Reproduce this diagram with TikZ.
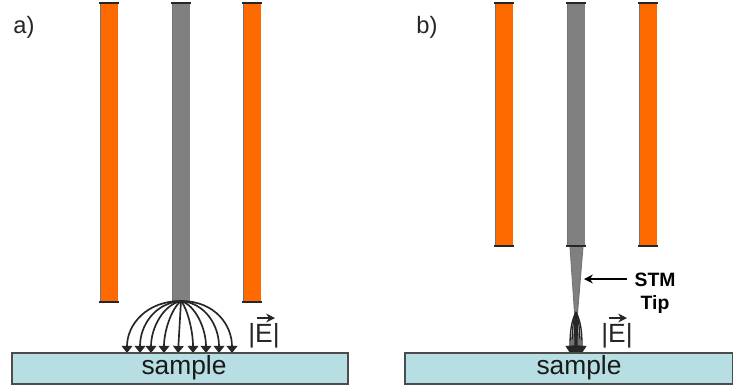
\documentclass[tikz,border=0pt]{standalone}
\usepackage{fontspec}
\setmainfont{Liberation Sans}
\usetikzlibrary{arrows.meta}
\definecolor{orangebar}{HTML}{FF6A00}
\definecolor{graybar}{HTML}{808080}
\definecolor{samplefill}{HTML}{B7DEE2}
\tikzset{
  px/.style={x=0.02cm,y=-0.02cm},
  edgeline/.style={line width=1.1pt,black!85},
  sideline/.style={line width=0.5pt,black!55},
  samplebox/.style={fill=samplefill,draw=black!70,line width=0.9pt},
  lab/.style={font=\fontsize{13.5pt}{15pt}\selectfont,text=black!85,inner sep=0pt},
  samplelab/.style={font=\fontsize{15pt}{17pt}\selectfont,text=black!90,inner sep=0pt,anchor=base},
  boldlab/.style={font=\fontsize{11pt}{13pt}\selectfont\bfseries,inner sep=0pt},
  elab/.style={font=\fontsize{15pt}{17pt}\selectfont,text=black!85,inner sep=0pt,anchor=base},
  earrow/.style={line width=0.9pt,black!85,-{Stealth[length=5pt,width=5pt]}},
  field/.style={line width=0.95pt,black!85,-{Triangle[length=4pt,width=6pt]}},
  fieldtight/.style={line width=0.75pt,black!85,-{Triangle[length=4pt,width=5pt]}},
  pointer/.style={line width=0.9pt,black,-{Stealth[length=5pt,width=5pt]}},
}
\newcommand{\plate}[3]{%
  \fill[#1] (#2,3) rectangle (#2+18,#3);
  \draw[sideline] (#2,3) -- (#2,#3);
  \draw[edgeline] (#2-1,3) -- (#2+19,3);
  \draw[edgeline] (#2-1,#3) -- (#2+19,#3);
}
\begin{document}
\begin{tikzpicture}[px]
\useasboundingbox (0,0) rectangle (733,387);
\fill[white] (0,0) rectangle (733,387);

% panel a
\node[lab] (la) at (24,27) {a)};
\plate{orangebar}{100}{302}
\plate{graybar}{172}{302}
\plate{orangebar}{243}{302}
\coordinate (apex) at (181,301);
\foreach \x in {127,140,151,164,178,193,206,219,232}{
  \coordinate (e\x) at (\x,353);
}
\draw[field] (apex) .. controls (146,301) and (127,325) .. (e127);
\draw[field] (apex) .. controls (155,303) and (140,325) .. (e140);
\draw[field] (apex) .. controls (163,305) and (151,328) .. (e151);
\draw[field] (apex) .. controls (172,308) and (164,330) .. (e164);
\draw[field] (apex) -- (e178);
\draw[field] (apex) .. controls (187,308) and (193,330) .. (e193);
\draw[field] (apex) .. controls (195,305) and (206,328) .. (e206);
\draw[field] (apex) .. controls (205,303) and (219,325) .. (e219);
\draw[field] (apex) .. controls (215,301) and (232,325) .. (e232);
\node[elab] (ea) at (264,342) {|E|};
\coordinate (eas) at (257,318);
\coordinate (eae) at (275,318);
\draw[earrow] (eas) -- (eae);
\draw[samplebox] (12,353) rectangle (348,384);
\node[samplelab] (sa) at (184,374) {sample};

% panel b
\node[lab] (lb) at (427,27) {b)};
\plate{orangebar}{495}{246}
\plate{graybar}{567}{246}
\plate{orangebar}{639}{246}
\fill[graybar] (570,247) -- (583,247) -- (577,320) -- (575,320) -- cycle;
\draw[sideline] (570,247) -- (575,320);
\draw[sideline] (583,247) -- (577,320);
\coordinate (tip) at (576,312);
\foreach \x in {570,572,574,575,576,577,578,580,582}{
  \coordinate (t\x) at (\x,353);
  \draw[fieldtight] (tip) .. controls ({576+(\x-576)*0.9},322) and (\x,335) .. (t\x);
}
\node[boldlab] (stm) at (655,280) {STM};
\node[boldlab] (tipl) at (655,304) {Tip};
\coordinate (pend) at (584,279);
\coordinate (pst) at (627,279);
\draw[pointer] (pst) -- (pend);
\node[elab] (eb) at (617,342) {|E|};
\coordinate (ebs) at (609,318);
\coordinate (ebe) at (627,318);
\draw[earrow] (ebs) -- (ebe);
\draw[samplebox] (405,353) rectangle (733,384);
\node[samplelab] (sb) at (579,374) {sample};
\end{tikzpicture}
\end{document}
